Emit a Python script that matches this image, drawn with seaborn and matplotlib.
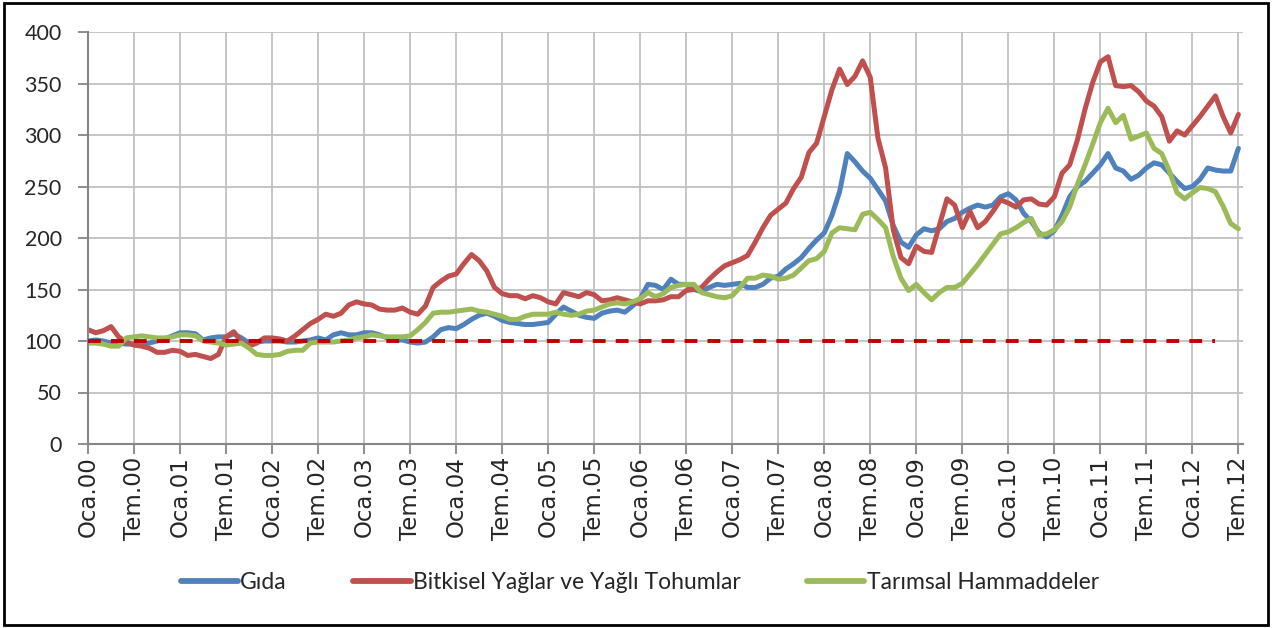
import seaborn as sns
import pandas as pd
import matplotlib.pyplot as plt
from matplotlib.patches import Rectangle

# aylik endeks degerleri, Ocak 2000 - Temmuz 2012 (2000 = 100)
gida = [100,101,100,98,98,97,97,96,98,100,102,105,
        108,108,107,101,103,104,104,107,103,98,99,100,
        100,100,99,99,100,101,103,101,106,108,106,106,
        108,108,106,103,101,101,99,98,99,104,111,113,
        112,116,121,125,127,124,120,118,117,116,116,117,
        118,126,133,129,125,123,122,127,129,130,128,134,
        141,155,154,150,160,155,155,150,148,152,155,154,
        155,156,152,152,155,161,163,170,175,181,190,198,
        205,222,245,282,274,265,258,247,236,212,196,191,
        203,209,207,209,216,219,225,229,232,230,232,240,
        243,237,224,216,205,201,207,222,240,250,255,263,
        271,282,268,265,257,261,268,273,271,263,255,248,
        250,257,268,266,265,265,287]

bitkisel = [111,108,110,114,104,99,96,95,93,89,89,91,
            90,86,87,85,83,87,104,109,99,95,98,103,
            103,102,100,105,111,117,121,126,124,127,135,138,
            136,135,131,130,130,132,128,126,134,152,158,163,
            165,175,184,178,168,152,146,144,144,141,144,142,
            138,136,147,145,143,147,145,139,140,142,140,138,
            136,139,139,140,143,143,149,150,152,160,167,173,
            176,179,183,196,210,222,228,234,248,259,283,292,
            318,344,364,349,357,372,356,297,268,208,181,175,
            192,187,186,212,238,232,210,226,210,216,226,237,
            234,230,237,238,233,232,240,263,271,295,325,351,
            371,376,348,347,348,342,333,328,318,294,304,300,
            309,318,328,338,318,302,320]

tarimsal = [98,98,97,95,95,103,104,105,104,103,103,104,
            106,106,105,100,99,98,96,97,98,93,87,86,
            86,87,90,91,91,98,99,99,99,100,101,103,
            104,106,105,104,104,104,105,111,118,127,128,128,
            129,130,131,129,128,126,124,121,121,124,126,126,
            126,128,126,125,126,129,130,133,136,137,136,138,
            141,147,143,146,152,154,155,155,147,145,143,142,
            144,152,161,161,164,163,160,161,164,171,178,180,
            187,205,210,209,208,223,225,218,210,182,161,149,
            155,147,140,147,152,152,156,165,174,184,194,204,
            206,210,215,219,203,204,208,216,230,252,271,291,
            312,326,312,319,296,299,302,287,282,265,244,238,
            244,249,248,245,231,214,209]

seriler = ['Gıda', 'Bitkisel Yağlar ve Yağlı Tohumlar', 'Tarımsal Hammaddeler']
renkler = ['#4F81BD', '#C0504D', '#9BBB59']
baz = [100] * 148

etiketler = []
for yil in range(13):
    etiketler.append('Oca.%02d' % yil)
    etiketler.append('Tem.%02d' % yil)
etiketler = etiketler[:26]

df = pd.DataFrame({
    'ay': list(range(len(gida))) * 3,
    'deger': gida + bitkisel + tarimsal,
    'seri': [seriler[0]] * len(gida) + [seriler[1]] * len(bitkisel) + [seriler[2]] * len(tarimsal),
})

sns.set_style('white')
plt.rcParams['font.family'] = ['Lato', 'DejaVu Sans']

fig = plt.figure(figsize=(12.72, 6.28), dpi=100)
ax = fig.add_axes([0.0692, 0.293, 0.908, 0.656])

sns.lineplot(data=df, x='ay', y='deger', hue='seri', hue_order=seriler,
             palette=renkler, linewidth=3.6, ax=ax)
ax.plot(range(len(baz)), baz, color='#C00000', linewidth=2.8,
        dashes=(3.3, 2.6), zorder=5)

ax.set_xlim(0, 150.6)
ax.set_ylim(0, 400)
ax.set_yticks(range(0, 401, 50))
ax.set_xticks(range(0, 151, 6))
ax.set_xticklabels(etiketler, rotation=90, family='DejaVu Sans', fontsize=16.5)
ax.tick_params(axis='y', labelsize=15.5, pad=12)
ax.tick_params(axis='both', direction='out', length=7, width=1.3, color='#868686',
               left=True, bottom=True)
ax.tick_params(axis='x', pad=2)
ax.grid(True, color='#C0C0C0', linewidth=1.3)
ax.set_xlabel('')
ax.set_ylabel('')
for s in ['top', 'right']:
    ax.spines[s].set_visible(False)
for s in ['left', 'bottom']:
    ax.spines[s].set_color('#868686')
    ax.spines[s].set_linewidth(1.5)

sns.move_legend(ax, 'center', bbox_to_anchor=(0.503, 0.072), bbox_transform=fig.transFigure,
                ncol=3, frameon=False, title=None, fontsize=16.5, handlelength=2.5,
                handletextpad=0.1, columnspacing=2.9)
for h in ax.get_legend().legend_handles:
    h.set_linewidth(4.2)

fig.patches.append(Rectangle((0.003, 0.005), 0.994, 0.991, transform=fig.transFigure,
                             fill=False, edgecolor='black', linewidth=2))

plt.savefig('out.png', dpi=100)
